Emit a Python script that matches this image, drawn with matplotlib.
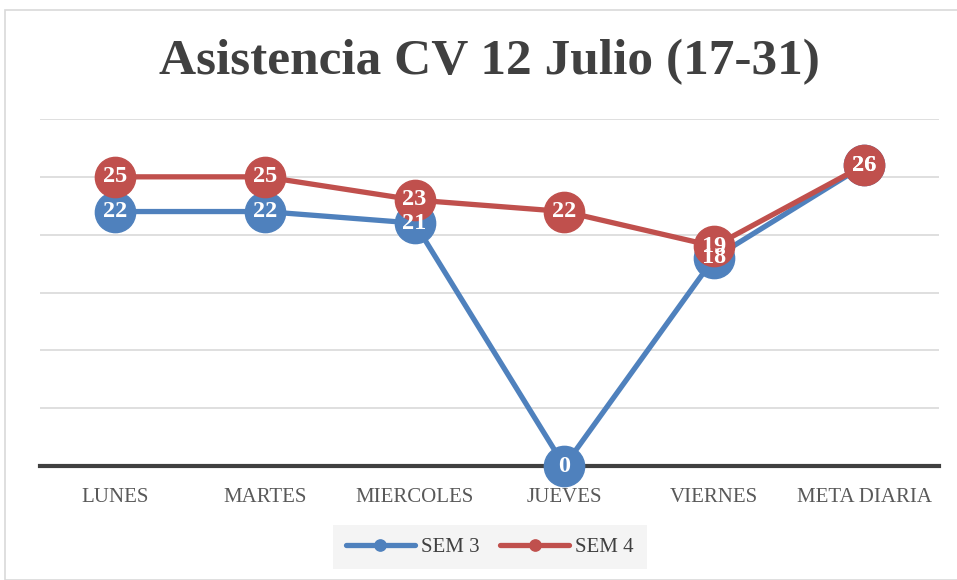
import matplotlib
matplotlib.use("Agg")
import matplotlib.pyplot as plt
from matplotlib.patches import Rectangle

# ---- data ----
categories = ["LUNES", "MARTES", "MIERCOLES", "JUEVES", "VIERNES", "META DIARIA"]
sem3 = [22, 22, 21, 0, 18, 26]
sem4 = [25, 25, 23, 22, 19, 26]
series_names = ["SEM 3", "SEM 4"]

BLUE = "#4F81BD"
RED = "#C0504D"
TEXT = "#404040"
SERIF = ["Liberation Serif", "DejaVu Serif"]

W, H = 957, 580
fig = plt.figure(figsize=(W / 100, H / 100), dpi=100)
fig.patch.set_facecolor("white")

# chart border (Excel style)
fig.patches.append(Rectangle((5 / W, 0), 1, 1 - 10 / H, transform=fig.transFigure,
                             fill=False, edgecolor="#D9D9D9", linewidth=1.2))

ax = fig.add_axes([40 / W, 1 - 466 / H, (939 - 40) / W, (466 - 119) / H])
x = list(range(len(categories)))

for vals, col, name in [(sem3, BLUE, series_names[0]), (sem4, RED, series_names[1])]:
    ax.plot(x, vals, color=col, lw=3.8, marker="o", ms=29, solid_capstyle="round",
            label=name, zorder=3, clip_on=False)

for vals in (sem3, sem4):
    for xi, v in zip(x, vals):
        ax.text(xi, v, str(v), ha="center", va="center", color="white",
                fontsize=17.5, fontweight="bold", family=SERIF, zorder=5)

ax.set_xlim(-0.5, len(categories) - 0.5)
ax.set_ylim(0, 30)
ax.set_yticks(range(0, 31, 5))
ax.yaxis.grid(True, color="#D9D9D9", lw=1.2)
ax.set_axisbelow(True)
ax.tick_params(left=False, labelleft=False, bottom=False)
for s in ["top", "right", "left"]:
    ax.spines[s].set_visible(False)
ax.spines["bottom"].set_color(TEXT)
ax.spines["bottom"].set_linewidth(3)
ax.spines["bottom"].set_zorder(2)
ax.set_xticks(x)
ax.set_xticklabels(categories, family=SERIF, fontsize=15, color="#595959")
ax.tick_params(axis="x", pad=12)

fig.text(489 / W, 1 - 62 / H, "Asistencia CV 12 Julio (17-31)", ha="center", va="center",
         fontsize=37, fontweight="bold", family=SERIF, color=TEXT)

leg = fig.legend(loc="center", bbox_to_anchor=(490 / W, 1 - 547 / H), ncol=2,
                 frameon=True, prop={"family": SERIF, "size": 15}, markerscale=0.28,
                 handlelength=3.3, columnspacing=1.0, handletextpad=0.3,
                 borderpad=0.6)
leg.get_frame().set_facecolor("#F2F2F2")
leg.get_frame().set_edgecolor("none")
leg.get_frame().set_boxstyle("square", pad=0.0)
for t in leg.get_texts():
    t.set_color(TEXT)

fig.savefig("out.png", dpi=100)
